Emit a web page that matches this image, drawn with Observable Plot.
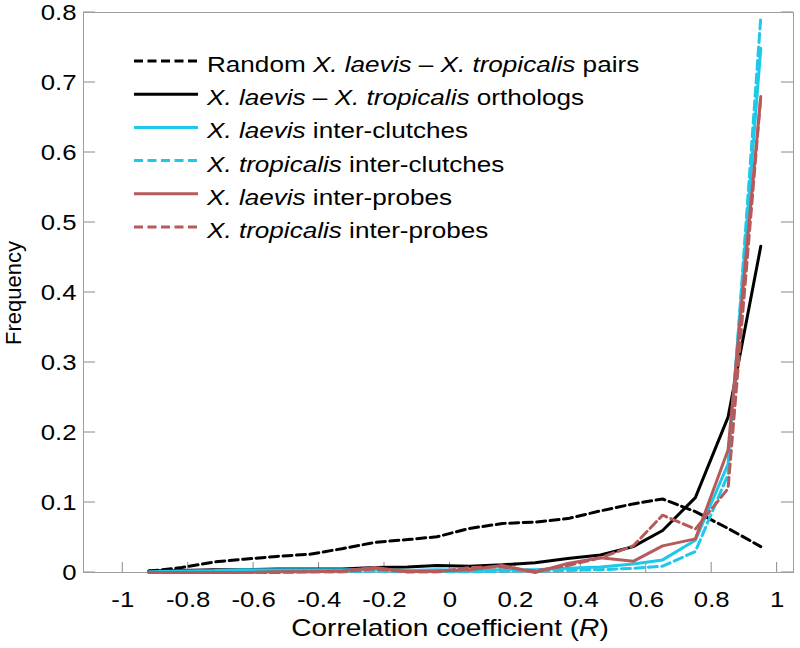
<!DOCTYPE html>
<html><head><meta charset="utf-8">
<script src="https://cdn.jsdelivr.net/npm/d3@7"></script>
<script src="https://cdn.jsdelivr.net/npm/@observablehq/plot@0.6"></script>
<style>body{margin:0;background:#fff} svg{display:block} text{white-space:pre}</style>
</head><body><div id="chart"></div>
<script>
// ---- data ----
const binCenters = [-0.92,-0.82,-0.72,-0.63,-0.53,-0.43,-0.33,-0.23,-0.13,-0.04,0.06,0.16,0.26,0.36,0.46,0.56,0.65,0.75,0.85,0.95];
const randomPairs = [0.002,0.007,0.015,0.019,0.023,0.026,0.034,0.043,0.047,0.051,0.063,0.070,0.072,0.077,0.088,0.098,0.105,0.087,0.063,0.037];
const orthologs = [0.002,0.003,0.004,0.004,0.005,0.005,0.005,0.007,0.008,0.010,0.009,0.011,0.014,0.020,0.025,0.037,0.060,0.107,0.222,0.466];
const laevisClutches = [0.001,0.002,0.003,0.004,0.004,0.004,0.004,0.004,0.003,0.004,0.003,0.004,0.004,0.006,0.008,0.012,0.018,0.046,0.155,0.749];
const tropicalisClutches = [0.000,0.000,0.001,0.001,0.001,0.001,0.001,0.002,0.001,0.001,0.001,0.002,0.002,0.003,0.004,0.006,0.009,0.030,0.140,0.793];
const laevisProbes = [0.000,0.000,0.000,0.000,0.001,0.001,0.002,0.007,0.001,0.002,0.004,0.010,0.000,0.013,0.021,0.016,0.038,0.048,0.175,0.680];
const tropicalisProbes = [0.000,0.000,0.000,0.000,0.000,0.001,0.001,0.005,0.001,0.001,0.007,0.008,0.002,0.010,0.021,0.038,0.082,0.062,0.120,0.680];

const xTickValues = [-1,-0.8,-0.6,-0.4,-0.2,0,0.2,0.4,0.6,0.8,1];
const xTickLabels = ["-1","-0.8","-0.6","-0.4","-0.2","0","0.2","0.4","0.6","0.8","1"];
const yTickValues = [0,0.1,0.2,0.3,0.4,0.5,0.6,0.7,0.8];
const yTickLabels = ["0","0.1","0.2","0.3","0.4","0.5","0.6","0.7","0.8"];

const seriesKeys = ["random","orthologs","laevisClutches","tropicalisClutches","laevisProbes","tropicalisProbes"];
const legendLabels = [
  [["Random ",false],["X. laevis",true],[" – ",false],["X. tropicalis",true],[" pairs",false]],
  [["X. laevis",true],[" – ",false],["X. tropicalis",true],[" orthologs",false]],
  [["X. laevis",true],[" inter-clutches",false]],
  [["X. tropicalis",true],[" inter-clutches",false]],
  [["X. laevis",true],[" inter-probes",false]],
  [["X. tropicalis",true],[" inter-probes",false]]
];
const xLabelParts = [["Correlation coefficient (",false],["R",true],[")",false]];
const yLabelText = "Frequency";

// ---- styles ----
const BLACK = "#000000", CYAN = "#1ec8e8", RED = "#b65a5c";
const DASH = "9,4.5";
const series = [
  {key: seriesKeys[0], values: randomPairs, stroke: BLACK, dash: DASH},
  {key: seriesKeys[1], values: orthologs, stroke: BLACK, dash: null},
  {key: seriesKeys[2], values: laevisClutches, stroke: CYAN, dash: null},
  {key: seriesKeys[3], values: tropicalisClutches, stroke: CYAN, dash: DASH},
  {key: seriesKeys[4], values: laevisProbes, stroke: RED, dash: null},
  {key: seriesKeys[5], values: tropicalisProbes, stroke: RED, dash: DASH}
];
const FONT = "'Liberation Sans', Arial, Helvetica, sans-serif";
const TICK = "#8a8a8a";

const chart = Plot.plot({
  width: 800, height: 648,
  marginLeft: 83, marginRight: 7, marginTop: 12, marginBottom: 76,
  style: {fontFamily: FONT, fontSize: "22px", color: "#000", background: "#fff"},
  x: {domain: [-1.12, 1.05], ticks: xTickValues, tickFormat: d => xTickLabels[xTickValues.indexOf(d)], tickSize: 0, tickPadding: 19, label: null},
  y: {domain: [0, 0.8], ticks: yTickValues, tickFormat: d => yTickLabels[yTickValues.indexOf(d)], tickSize: 0, tickPadding: 7, label: null},
  marks: [
    Plot.frame({stroke: "#9e9e9e"}),
    ...series.map(s => Plot.line(binCenters.map((x, i) => ({x, y: s.values[i]})), {
      x: "x", y: "y", stroke: s.stroke, strokeWidth: 3, strokeDasharray: s.dash || undefined, strokeLinejoin: "miter"
    }))
  ]
});
document.getElementById("chart").appendChild(chart);

const svg = d3.select(chart);
// horizontal stretch of tick labels, as in the reference
svg.selectAll("text").each(function() {
  const t = this.getAttribute("transform") || "";
  this.setAttribute("transform", (t + " scale(1.17,1)").trim());
});

// inward ticks (bottom, left, right) positioned through Plot's scales
const sx = chart.scale("x"), sy = chart.scale("y");
const [x0, x1] = sx.range, [y0, y1] = sy.range; // y0 bottom, y1 top
const tg = svg.insert("g", "g").attr("stroke", TICK).attr("stroke-width", 1);
xTickValues.forEach(v => {
  const px = sx.apply(v);
  tg.append("line").attr("x1", px).attr("x2", px).attr("y1", y0).attr("y2", y0 - 10);
});
yTickValues.forEach(v => {
  const py = sy.apply(v);
  tg.append("line").attr("x1", x0).attr("x2", x0 + 12).attr("y1", py).attr("y2", py);
  tg.append("line").attr("x1", x1).attr("x2", x1 - 12).attr("y1", py).attr("y2", py);
});

// legend
const lg = svg.append("g").attr("font-family", FONT).attr("text-anchor", "start");
series.forEach((s, i) => {
  const yl = 61 + i * 33.2;
  lg.append("line").attr("x1", 134).attr("x2", 198).attr("y1", yl).attr("y2", yl)
    .attr("stroke", s.stroke).attr("stroke-width", 3).attr("stroke-dasharray", s.dash);
  const t = lg.append("text").attr("transform", `translate(207,${yl + 11}) scale(1.16,1)`)
    .attr("text-anchor", "start").attr("font-size", 22.5).attr("fill", "#000");
  legendLabels[i].forEach(([str, it]) => t.append("tspan").attr("font-style", it ? "italic" : null).text(str));
});

// axis labels
const xl = svg.append("text").attr("transform", "translate(450,636) scale(1.22,1)")
  .attr("text-anchor", "middle").attr("font-family", FONT).attr("font-size", 23).attr("fill", "#000");
xLabelParts.forEach(([str, it]) => xl.append("tspan").attr("font-style", it ? "italic" : null).text(str));
svg.append("text").attr("transform", "translate(21,293) rotate(-90)")
  .attr("text-anchor", "middle").attr("font-family", FONT).attr("font-size", 22).attr("fill", "#000")
  .text(yLabelText);
</script>
</body></html>
